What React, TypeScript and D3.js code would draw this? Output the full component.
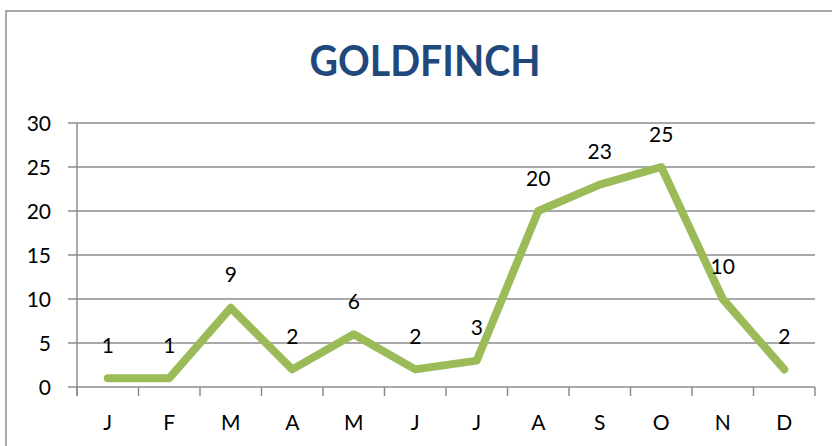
import React from "react";
import * as d3 from "d3";

const months = ["J", "F", "M", "A", "M", "J", "J", "A", "S", "O", "N", "D"];
const counts = [1, 1, 9, 2, 6, 2, 3, 20, 23, 25, 10, 2];
const yTicks = [0, 5, 10, 15, 20, 25, 30];
const title = "GOLDFINCH";

const W = 832;
const H = 446;
const left = 77;
const right = 815;
const top = 123;
const bottom = 387;
const font = "Lato, 'Open Sans', sans-serif";

export default function App() {
  const idx = months.map((_, i) => String(i));
  const x = d3.scaleBand().domain(idx).range([left, right]);
  const y = d3.scaleLinear().domain([0, 30]).range([bottom, top]);
  const cx = (i: number) => (x(String(i)) as number) + x.bandwidth() / 2;
  const line = d3
    .line<number>()
    .x((_, i) => cx(i))
    .y((d) => y(d));
  const gridColor = "#8c8c8c";
  const boundaries = d3.range(months.length + 1).map((i) => left + i * x.bandwidth());

  return (
    <svg
      width={W}
      height={H}
      style={{ position: "absolute", left: 0, top: 0, background: "#fff" }}
    >
      <rect x={6} y={11} width={W + 20} height={H + 20} fill="#fff" stroke="#8e8e8e" strokeWidth={1.5} />
      <text
        x={425}
        y={76}
        textAnchor="middle"
        fontFamily={font}
        fontWeight={700}
        fontSize={42}
        fill="#1F497D"
        textLength={231}
        lengthAdjust="spacingAndGlyphs"
      >
        {title}
      </text>
      {yTicks.map((t) => (
        <g key={t}>
          <line x1={left - 9} x2={right} y1={y(t)} y2={y(t)} stroke={gridColor} strokeWidth={1.5} />
          <text
            x={51}
            y={y(t)}
            dy="0.36em"
            textAnchor="end"
            fontFamily={font}
            fontSize={21}
            fill="#000"
          >
            {t}
          </text>
        </g>
      ))}
      <line x1={left} x2={left} y1={top} y2={bottom + 9} stroke={gridColor} strokeWidth={1.5} />
      {boundaries.map((bx, i) => (
        <line key={i} x1={bx} x2={bx} y1={bottom} y2={bottom + 9} stroke={gridColor} strokeWidth={1.5} />
      ))}
      {months.map((m, i) => (
        <text
          key={i}
          x={cx(i)}
          y={422}
          dy="0.36em"
          textAnchor="middle"
          fontFamily={font}
          fontSize={21}
          fill="#000"
        >
          {m}
        </text>
      ))}
      <path
        d={line(counts) as string}
        fill="none"
        stroke="#9BBB59"
        strokeWidth={8}
        strokeLinejoin="round"
        strokeLinecap="round"
      />
      {counts.map((v, i) => (
        <text
          key={i}
          x={cx(i)}
          y={y(v) - 33}
          dy="0.36em"
          textAnchor="middle"
          fontFamily={font}
          fontSize={21}
          fill="#000"
        >
          {v}
        </text>
      ))}
    </svg>
  );
}
